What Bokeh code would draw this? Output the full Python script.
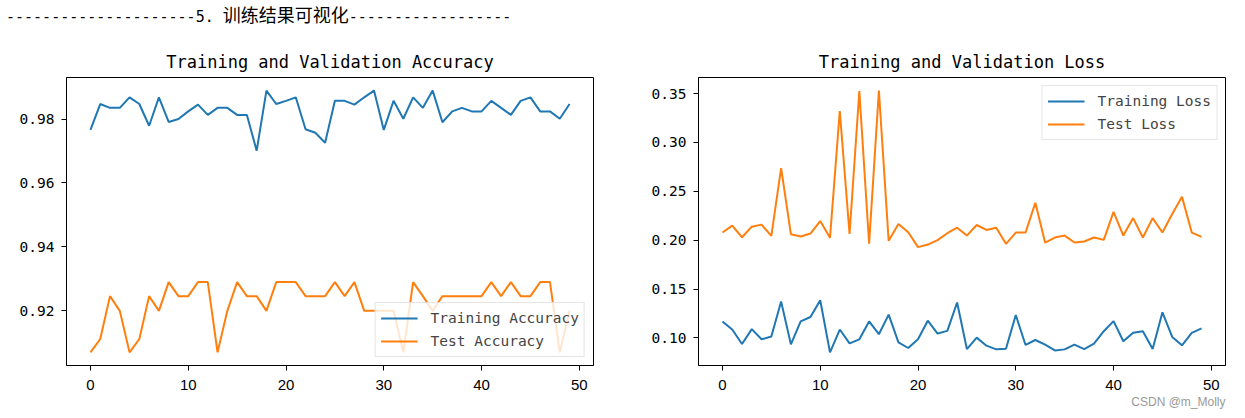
from bokeh.plotting import figure
from bokeh.models import Div, Range1d, PrintfTickFormatter, Title
from bokeh.layouts import column, row
from bokeh.embed import file_html
from bokeh.resources import INLINE

epochs = list(range(50))

train_acc = [0.9766, 0.9847, 0.9835, 0.9835, 0.9868, 0.9847, 0.9779, 0.9868, 0.9791, 0.9800,
             0.9824, 0.9845, 0.9813, 0.9835, 0.9835, 0.9813, 0.9813, 0.9701, 0.9889, 0.9847,
             0.9857, 0.9868, 0.9768, 0.9757, 0.9726, 0.9857, 0.9857, 0.9845, 0.9868, 0.9889,
             0.9766, 0.9857, 0.9801, 0.9868, 0.9835, 0.9889, 0.9790, 0.9824, 0.9835, 0.9824,
             0.9824, 0.9857, 0.9835, 0.9813, 0.9857, 0.9868, 0.9824, 0.9824, 0.9801, 0.9847]

val_acc = [0.907, 0.9112, 0.9246, 0.920, 0.907, 0.9112, 0.9246, 0.920, 0.929, 0.9246,
           0.9246, 0.929, 0.929, 0.907, 0.920, 0.929, 0.9246, 0.9246, 0.920, 0.929,
           0.929, 0.929, 0.9246, 0.9246, 0.9246, 0.929, 0.9246, 0.929, 0.920, 0.920,
           0.920, 0.920, 0.907, 0.929, 0.9246, 0.920, 0.9246, 0.9246, 0.9246, 0.9246,
           0.9246, 0.929, 0.9246, 0.929, 0.9246, 0.9246, 0.929, 0.929, 0.907, 0.920]

train_loss = [0.1169, 0.1086, 0.0938, 0.1090, 0.0986, 0.1014, 0.1372, 0.0934, 0.1169, 0.1214,
              0.1386, 0.0852, 0.1086, 0.0945, 0.0986, 0.1169, 0.1038, 0.1238, 0.0955, 0.0897,
              0.0986, 0.1176, 0.1045, 0.1072, 0.1362, 0.0886, 0.1003, 0.0921, 0.0883, 0.0890,
              0.1234, 0.0928, 0.0979, 0.0931, 0.0872, 0.0883, 0.0931, 0.0886, 0.0941, 0.1069,
              0.1172, 0.0966, 0.1052, 0.1069, 0.0886, 0.1262, 0.1010, 0.0924, 0.1052, 0.1097]

val_loss = [0.2078, 0.2149, 0.2030, 0.2138, 0.2159, 0.2044, 0.2736, 0.2061, 0.2037, 0.2068,
            0.2196, 0.2024, 0.3321, 0.2064, 0.3524, 0.1963, 0.3530, 0.1993, 0.2166, 0.2081,
            0.1929, 0.1955, 0.2000, 0.2071, 0.2128, 0.2047, 0.2155, 0.2105, 0.2128, 0.1963,
            0.2078, 0.2078, 0.2382, 0.1976, 0.2027, 0.2047, 0.1976, 0.1986, 0.2027, 0.2003,
            0.2290, 0.2047, 0.2226, 0.2027, 0.2226, 0.2078, 0.2267, 0.2443, 0.2078, 0.2034]

x_ticks = [0, 10, 20, 30, 40, 50]
acc_ticks = [0.92, 0.94, 0.96, 0.98]
loss_ticks = [0.10, 0.15, 0.20, 0.25, 0.30, 0.35]

header_left = "-" * 21 + "5. "
header_cn = "训练结果可视化"
header_right = "-" * 18
watermark = "CSDN @m_Molly"

BLUE = "#1f77b4"
ORANGE = "#ff7f0e"


def style(p, yticks):
    p.grid.visible = False
    p.outline_line_color = "black"
    p.outline_line_width = 1
    p.outline_line_alpha = 1
    for ax in (p.xaxis[0], p.yaxis[0]):
        ax.axis_line_color = "black"
        ax.axis_line_width = 1
        ax.major_tick_in = 0
        ax.major_tick_out = 5
        ax.major_tick_line_color = "black"
        ax.minor_tick_line_color = None
        ax.major_label_text_color = "black"
    p.xaxis.major_label_standoff = 9
    p.yaxis.major_label_standoff = 7
    p.xaxis.ticker = x_ticks
    p.yaxis.ticker = yticks
    p.xaxis.major_label_text_font = "Liberation Sans"
    p.xaxis.major_label_text_font_size = "15px"
    p.yaxis.major_label_text_font = "DejaVu Sans Mono"
    p.yaxis.major_label_text_font_size = "14.5px"
    p.yaxis.formatter = PrintfTickFormatter(format="%.2f")
    p.title.text_font = "DejaVu Sans Mono"
    p.title.text_font_size = "17px"
    p.title.text_font_style = "normal"
    p.title.align = "center"
    p.title.text_color = "black"
    p.title.standoff = 12


def style_legend(p, loc):
    lg = p.legend[0]
    lg.location = loc
    lg.label_text_font = "DejaVu Sans Mono"
    lg.label_text_font_size = "14.5px"
    lg.glyph_width = 37
    lg.glyph_height = 20
    lg.label_height = 20
    lg.label_standoff = 13
    lg.spacing = 3
    lg.padding = 5
    lg.margin = 8
    lg.border_line_color = "#cccccc"
    lg.border_line_width = 1
    lg.background_fill_alpha = 0.8


p1 = figure(frame_width=527, frame_height=288,
            x_range=Range1d(-2.45, 51.45), y_range=Range1d(0.9029, 0.9930),
            title="Training and Validation Accuracy",
            output_backend="svg", toolbar_location=None,
            min_border_left=66, min_border_right=50, min_border_top=39, min_border_bottom=45)
p1.line(epochs, train_acc, color=BLUE, line_width=2, legend_label="Training Accuracy")
p1.line(epochs, val_acc, color=ORANGE, line_width=2, legend_label="Test Accuracy")
style(p1, acc_ticks)
style_legend(p1, "bottom_right")

p2 = figure(frame_width=527, frame_height=288,
            x_range=Range1d(-2.45, 51.45), y_range=Range1d(0.0718, 0.3664),
            title="Training and Validation Loss",
            output_backend="svg", toolbar_location=None,
            min_border_left=55, min_border_right=10, min_border_top=39, min_border_bottom=45)
p2.line(epochs, train_loss, color=BLUE, line_width=2, legend_label="Training Loss")
p2.line(epochs, val_loss, color=ORANGE, line_width=2, legend_label="Test Loss")
style(p2, loss_ticks)
style_legend(p2, "top_right")

wm = Title(text=watermark, align="right", text_font="Liberation Sans", text_font_size="12px",
           text_font_style="normal", text_color="#999999", standoff=0, text_line_height=1.0)
p2.add_layout(wm, "below")

html = ('<div style="position:relative;top:5px;left:6px;white-space:nowrap;line-height:18px;color:#000">'
        '<span style="font-family:\'DejaVu Sans Mono\';font-size:15px">' + header_left + '</span>'
        '<span style="font-family:\'Noto Sans CJK SC\';font-size:18px">' + header_cn + '</span>'
        '<span style="font-family:\'DejaVu Sans Mono\';font-size:15px">' + header_right + '</span>'
        '</div>')
header = Div(text=html, width=600, height=38, margin=(0, 0, 0, 0))

layout = column(header, row(p1, p2, spacing=0), spacing=0)

open("out.html", "w").write(file_html(layout, INLINE))
